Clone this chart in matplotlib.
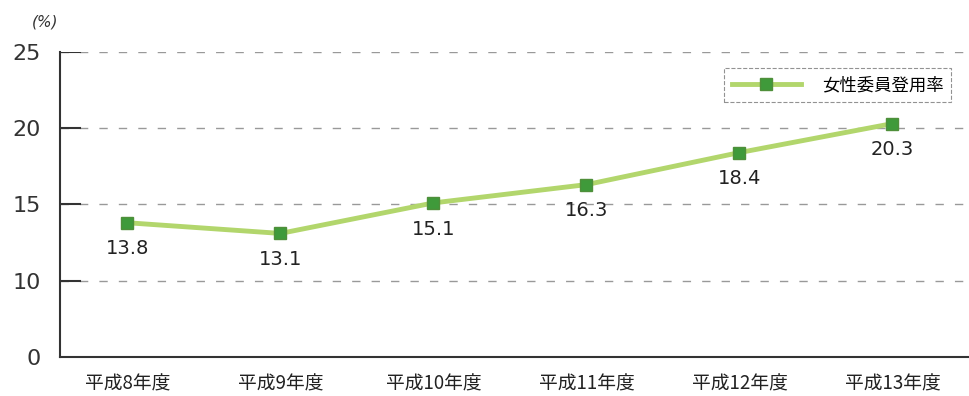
import matplotlib.pyplot as plt
from matplotlib.lines import Line2D

plt.rcParams['font.family'] = ['Noto Sans CJK JP', 'DejaVu Sans']

# datos
years = ['平成8年度', '平成9年度', '平成10年度', '平成11年度', '平成12年度', '平成13年度']
rate = [13.8, 13.1, 15.1, 16.3, 18.4, 20.3]
# el eje esta cortado: el 0 se dibuja donde iria el 5
yticks = [5, 10, 15, 20, 25]
ytick_labels = ['0', '10', '15', '20', '25']

line_c = '#b2d66c'
mark_c = '#3f9a3a'

fig = plt.figure(figsize=(9.69, 3.96), dpi=100)
ax = fig.add_axes([0.062, 0.0985, 0.938, 0.7705])

x = list(range(len(years)))
ax.plot(x, rate, color=line_c, linewidth=3.5, marker='s', markersize=8.5,
        markerfacecolor=mark_c, markeredgecolor='#4f8f3a', zorder=3)

for xi, v in zip(x, rate):
    ax.annotate(f'{v}', (xi, v), xytext=(0, -12), textcoords='offset points',
                ha='center', va='top', fontsize=14, color='#222222',
                family='DejaVu Sans')

ax.set_xlim(-0.44, 5.5)
ax.set_ylim(5, 25)
ax.set_yticks(yticks)
ax.set_yticklabels(ytick_labels, fontsize=16, color='#333333', family='DejaVu Sans')
ax.set_xticks(x)
ax.set_xticklabels(years, fontsize=13.5, color='#222222')

for g in [10, 15, 20, 25]:
    ax.axhline(g, color='#999999', linestyle=(0, (6, 8)), linewidth=1, zorder=1)
    ax.plot([-0.44, -0.31], [g, g], color='#333333', linewidth=1.5, zorder=2)

ax.tick_params(axis='both', length=0)
ax.tick_params(axis='x', pad=12)
ax.tick_params(axis='y', pad=14)
for s in ['top', 'right']:
    ax.spines[s].set_visible(False)
ax.spines['left'].set_color('#333333')
ax.spines['bottom'].set_color('#333333')
ax.spines['left'].set_linewidth(1.5)
ax.spines['bottom'].set_linewidth(1.5)

fig.text(0.033, 0.945, '(%)', fontsize=11, color='#333333', family='DejaVu Sans',
         ha='left', va='center', style='italic')

h = Line2D([], [], color=line_c, linewidth=3.5, marker='s', markersize=8.5,
           markerfacecolor=mark_c, markeredgecolor='#4f8f3a')
leg = ax.legend([h], ['女性委員登用率'], loc='upper right', bbox_to_anchor=(0.99, 0.975),
                fontsize=12.5, frameon=True, fancybox=False, handlelength=4,
                borderpad=0.45, handletextpad=1.2)
leg.get_frame().set_edgecolor('#777777')
leg.get_frame().set_linestyle('--')
leg.get_frame().set_linewidth(0.8)

fig.savefig('out.png', dpi=100)
